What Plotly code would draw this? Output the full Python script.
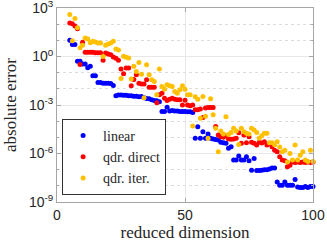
import plotly.graph_objects as go

dimension = list(range(5, 101))

linear = [
    1.0e1, 5.6, 5.6, 0.5, 0.5, 0.34, 0.34, 0.2, 0.25, 0.065,
    0.065, 0.025, 0.025, 0.022, 0.022, 0.022, 0.021, 0.016, 3.8e-3, 4.2e-3,
    4.2e-3, 4.0e-3, 4.0e-3, 3.8e-3, 3.8e-3, 3.5e-3, 3.5e-3, 3.2e-3, 3.3e-3, 2.8e-3,
    2.5e-3, 2.4e-3, 2.1e-3, 1.9e-3, 1.8e-3, 1.6e-3, 3.9e-4, 3.9e-4, 7.2e-4, 4.2e-4,
    4.5e-4, 4.2e-4, 4.2e-4, 4.0e-4, 4.0e-4, 4.0e-4, 3.8e-4, 3.8e-4, 3.4e-4, 8.7e-6,
    4.5e-5, 8.7e-6, 2.2e-5, 8.7e-6, 1.6e-5, 8.7e-6, 7.9e-6, 7.4e-6, 6.8e-6, 5.0e-6,
    4.7e-6, 4.3e-6, 2.1e-6, 2.6e-6, 3.9e-7, 3.9e-7, 7.1e-7, 3.9e-7, 3.9e-7, 6.3e-7,
    3.5e-7, 9.3e-8, 4.9e-7, 8.9e-8, 8.9e-8, 9.3e-8, 1.0e-7, 1.0e-7, 1.1e-7, 1.26e-7,
    1.26e-7, 1.7e-8, 1.1e-8, 1.1e-8, 1.7e-8, 1.1e-8, 1.1e-8, 1.1e-8, 2.5e-8, 8.5e-9,
    7.9e-9, 7.9e-9, 9.1e-9, 7.9e-9, 9.1e-9, 9.1e-9,
]

qdr_direct = [
    120, 107, 76, 52, 0.32, 7.6, 1.8, 1.8, 1.8, 1.8,
    1.7, 1.7, 1.7, 0.58, 1.66, 1.45, 1.29, 0.93, 0.79, 0.58,
    0.166, 0.085, 0.195, 0.195, 0.0155, 0.038, 0.074, 0.022, 0.020, 0.020,
    0.036, 0.0126, 0.0126, 0.0126, 1.4e-3, 4.3e-3, 5.4e-3, 2.6e-3, 1.9e-3, 2.3e-3,
    2.6e-3, 2.3e-3, 2.1e-3, 2.1e-3, 1.0e-3, 2.0e-3, 1.0e-3, 9.1e-4, 1.0e-3, 5.0e-4,
    5.0e-4, 5.6e-4, 1.66e-4, 6.6e-4, 7.1e-4, 7.1e-4, 7.1e-4, 4.6e-5, 1.4e-5, 1.1e-5,
    1.0e-5, 1.26e-5, 7.9e-6, 7.6e-6, 7.9e-6, 8.7e-6, 1.95e-5, 4.3e-6, 1.4e-5, 4.7e-6,
    1.1e-5, 5.0e-6, 4.3e-6, 3.3e-6, 4.9e-6, 4.5e-6, 5.4e-6, 3.3e-6, 4.0e-6, 2.6e-6,
    1.6e-6, 1.3e-6, 6.3e-7, 3.9e-7, 3.5e-7, 1.5e-7, 1.9e-7, 3.0e-7, 2.8e-7, 3.0e-7,
    2.8e-7, 3.0e-7, 2.8e-7, 3.0e-7, 2.8e-7, 3.0e-7,
]

qdr_iter = [
    400, 9.5, 224, 59, 3.5, 5.0, 14, 12.3, 7.1, 8.7,
    7.9, 6.9, 6.9, 1.0, 4.9, 6.0, 6.9, 8.7, 2.95, 2.5,
    0.043, 1.05, 0.91, 0.81, 0.04, 0.25, 0.117, 0.43, 0.081, 2.8e-3,
    0.31, 0.074, 0.036, 0.028, 4.3e-3, 0.166, 0.0138, 9.5e-3, 0.0178, 0.0155,
    0.0138, 6.8e-3, 5.4e-3, 8.7e-3, 0.0155, 9.5e-3, 4.3e-3, 4.3e-3, 5.0e-5, 3.2e-3,
    2.3e-3, 1.5e-4, 3.3e-3, 2.0e-4, 8.7e-6, 2.4e-3, 2.5e-4, 3.6e-5, 1.3e-6, 2.5e-5,
    1.6e-5, 1.9e-4, 1.5e-5, 2.0e-5, 3.6e-5, 2.5e-5, 3.6e-6, 3.6e-5, 2.2e-5, 1.8e-5,
    1.6e-5, 3.6e-5, 2.8e-5, 2.0e-5, 8.7e-6, 1.26e-5, 1.8e-5, 1.8e-5, 4.7e-6, 4.7e-6,
    3.5e-6, 5.4e-6, 2.5e-6, 1.3e-6, 1.6e-6, 3.0e-7, 1.0e-6, 4.0e-7, 3.3e-6, 3.9e-7,
    7.9e-7, 1.3e-6, 4.0e-7, 3.2e-7, 1.6e-6, 3.2e-7,
]

series_names = ["linear", "qdr. direct", "qdr. iter."]
series_colors = ["#0000ff", "#ff0000", "#ffc000"]

x_ticks = [0, 50, 100]
y_major = [1e3, 1e0, 1e-3, 1e-6, 1e-9]
y_major_text = ["10<sup>3</sup>", "10<sup>0</sup>", "10<sup>-3</sup>", "10<sup>-6</sup>", "10<sup>-9</sup>"]
y_minor = [1e2, 1e1, 1e-1, 1e-2, 1e-4, 1e-5, 1e-7, 1e-8]

fig = go.Figure()
for name, vals, col in zip(series_names, [linear, qdr_direct, qdr_iter], series_colors):
    fig.add_trace(go.Scatter(
        x=dimension, y=vals, mode="markers", name=name,
        marker=dict(color=col, size=5, line=dict(width=0)),
        cliponaxis=False,
    ))

frame = "#a6a6a6"
tickfont = dict(family="Liberation Sans, Arial, sans-serif", size=14, color="#262626")
serif = "Liberation Serif, DejaVu Serif, serif"

fig.update_layout(
    width=327, height=244,
    margin=dict(l=57, r=14, t=8, b=42, autoexpand=False),
    paper_bgcolor="white", plot_bgcolor="white",
    showlegend=True,
    legend=dict(
        x=0.02, y=0.036, xanchor="left", yanchor="bottom",
        bgcolor="white", bordercolor="#333333", borderwidth=1,
        font=dict(family=serif, size=14, color="#262626"),
        itemwidth=30, tracegroupgap=0,
    ),
    xaxis=dict(
        range=[0, 100], tickvals=x_ticks, ticktext=[str(v) for v in x_ticks],
        showgrid=True, gridcolor="#e8e8e8", gridwidth=1,
        showline=True, linecolor=frame, linewidth=1, mirror="ticks",
        ticks="inside", ticklen=4, tickcolor=frame,
        zeroline=False, tickfont=tickfont, automargin=False,
        ticklabeloverflow="allow",
        title=dict(text="reduced dimension", font=dict(family=serif, size=17, color="#262626"), standoff=1),
    ),
    yaxis=dict(
        type="log", range=[-9, 3],
        tickvals=y_major, ticktext=y_major_text,
        showgrid=True, gridcolor="#e8e8e8", gridwidth=1,
        showline=True, linecolor=frame, linewidth=1, mirror="ticks",
        ticks="inside", ticklen=4, tickcolor=frame,
        zeroline=False, tickfont=tickfont, automargin=False,
        ticklabeloverflow="allow",
        minor=dict(tickvals=y_minor, showgrid=True, griddash="dot", gridcolor="#dcdcdc",
                   ticks="inside", ticklen=2, tickcolor=frame),
        title=dict(text="absolute error", font=dict(family=serif, size=17, color="#262626"), standoff=7),
    ),
)

fig.write_html(
    "out.html",
    config={"displayModeBar": False},
    post_script="document.body.style.margin='0';document.body.style.overflow='hidden';",
)
